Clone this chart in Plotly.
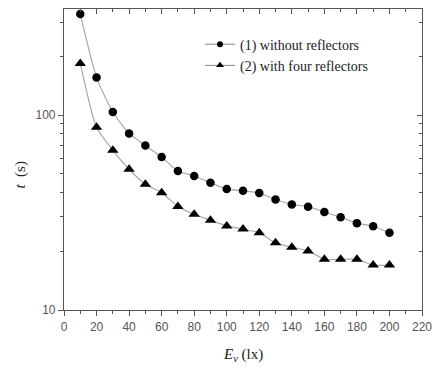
import plotly.graph_objects as go

# Data
ev = [10, 20, 30, 40, 50, 60, 70, 80, 90, 100, 110, 120, 130, 140, 150, 160, 170, 180, 190, 200]
t_without = [330, 156, 103.6, 80.5, 69.8, 60.9, 51.6, 48.7, 45.0, 41.7, 40.9, 39.8, 36.9, 34.8, 33.9, 31.8, 29.9, 27.9, 26.9, 24.9]
t_with = [184, 86.5, 65.9, 52.7, 44.2, 40.0, 34.0, 31.0, 28.9, 27.0, 26.0, 24.9, 22.1, 21.0, 20.1, 18.2, 18.2, 18.2, 17.0, 17.0]
names = ["(1) without reflectors", "(2) with four reflectors"]
x_ticks = list(range(0, 221, 20))
x_minor = list(range(10, 220, 20))
y_ticks = [10, 100]
y_minor = [20, 30, 40, 50, 60, 70, 80, 90, 200, 300]

axis_color = "#555555"
line_color = "#a8a8a8"
tick_font = dict(family="Liberation Sans, Arial, sans-serif", size=12, color="#555555")
serif = "Liberation Serif, Times New Roman, serif"

fig = go.Figure()
fig.add_trace(go.Scatter(
    x=ev, y=t_without, name=names[0], mode="lines+markers", showlegend=False,
    line=dict(color=line_color, width=1.2, shape="spline", smoothing=0.6),
    marker=dict(symbol="circle", size=8.5, color="black"),
))
fig.add_trace(go.Scatter(
    x=ev, y=t_with, name=names[1], mode="lines+markers", showlegend=False,
    line=dict(color=line_color, width=1.2, shape="spline", smoothing=0.6),
    marker=dict(symbol="triangle-up", size=10, color="black"),
))
# legend entries with the smaller legend symbols of the reference
fig.add_trace(go.Scatter(x=[None], y=[None], name=names[0], mode="lines+markers",
                         line=dict(color="#888888", width=1),
                         marker=dict(symbol="circle", size=6, color="black")))
fig.add_trace(go.Scatter(x=[None], y=[None], name=names[1], mode="lines+markers",
                         line=dict(color="#888888", width=1),
                         marker=dict(symbol="triangle-up", size=7, color="black")))
# invisible trace to hold the mirrored top/right axes
fig.add_trace(go.Scatter(x=[ev[0]], y=[t_with[0]], xaxis="x2", yaxis="y2",
                         mode="markers", marker=dict(opacity=0), showlegend=False,
                         hoverinfo="skip"))

x_range = [0, 220]
y_range = [1, 2.544]

fig.update_layout(
    width=441, height=371,
    margin=dict(l=64, r=11, t=9, b=61),
    paper_bgcolor="white", plot_bgcolor="white",
    showlegend=True,
    legend=dict(x=0.38, y=0.935, xanchor="left", yanchor="top",
                bgcolor="rgba(0,0,0,0)", font=dict(family=serif, size=14, color="#222"),
                itemwidth=30, tracegroupgap=0),
    xaxis=dict(range=x_range, tickvals=x_ticks, ticks="outside", ticklen=5, tickwidth=1,
               tickcolor=axis_color, showline=True, linecolor=axis_color, linewidth=1.2,
               showgrid=False, zeroline=False, tickfont=tick_font,
               minor=dict(tickmode="array", tickvals=x_minor, ticks="outside", ticklen=3,
                          tickcolor=axis_color, showgrid=False)),
    yaxis=dict(type="log", range=y_range, tickvals=y_ticks, ticktext=["10", "100"],
               ticks="outside", ticklen=5, tickwidth=1, tickcolor=axis_color,
               showline=True, linecolor=axis_color, linewidth=1.2,
               showgrid=False, zeroline=False, tickfont=tick_font,
               minor=dict(tickmode="array", tickvals=y_minor, ticks="outside", ticklen=3,
                          tickcolor=axis_color, showgrid=False)),
    xaxis2=dict(range=x_range, overlaying="x", side="top", anchor="y", tickvals=x_ticks,
                ticks="inside", ticklen=5, tickcolor=axis_color, showticklabels=False,
                showline=True, linecolor=axis_color, linewidth=1.2, showgrid=False,
                zeroline=False,
                minor=dict(tickmode="array", tickvals=x_minor, ticks="inside", ticklen=3,
                           tickcolor=axis_color, showgrid=False)),
    yaxis2=dict(type="log", range=y_range, overlaying="y", side="right", anchor="x",
                tickvals=y_ticks, ticks="inside", ticklen=5, tickcolor=axis_color,
                showticklabels=False, showline=True, linecolor=axis_color, linewidth=1.2,
                showgrid=False, zeroline=False,
                minor=dict(tickmode="array", tickvals=y_minor, ticks="inside", ticklen=3,
                           tickcolor=axis_color, showgrid=False)),
    annotations=[
        dict(text="<i>E</i><sub><i>v</i></sub> (lx)", xref="paper", yref="paper",
             x=0.5, y=-0.15, xanchor="center", yanchor="middle", showarrow=False,
             font=dict(family=serif, size=15, color="#222")),
        dict(text="<i>t</i>  (s)", xref="paper", yref="paper", textangle=-90,
             x=-0.12, y=0.45, xanchor="center", yanchor="middle", showarrow=False,
             font=dict(family=serif, size=15, color="#222")),
    ],
)

fig.write_html("out.html")
